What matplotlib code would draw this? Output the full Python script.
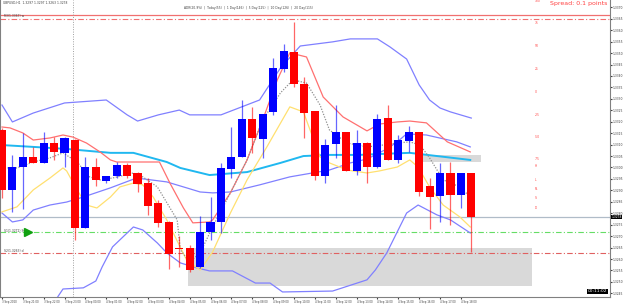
import numpy as np
import matplotlib.pyplot as plt

# candles (GBPUSD), oldest first
opens = [1.33160, 1.32902, 1.33002, 1.33042, 1.33020, 1.33107, 1.33064, 1.33120, 1.32736, 1.33002,
         1.32941, 1.32963, 1.33007, 1.32972, 1.32932, 1.32841, 1.32758, 1.32648, 1.32648, 1.32565,
         1.32718, 1.32762, 1.32994, 1.33046, 1.33212, 1.33125, 1.33243, 1.33431, 1.33501, 1.33361,
         1.33243, 1.32963, 1.33103, 1.33155, 1.32985, 1.33103, 1.33002, 1.33216, 1.33033, 1.33116,
         1.33155, 1.32915, 1.32876, 1.32972, 1.32880, 1.32972]
highs = [1.33173, 1.33055, 1.33151, 1.33090, 1.33155, 1.33133, 1.33133, 1.33125, 1.33046, 1.33042,
         1.32963, 1.33024, 1.33020, 1.32980, 1.32954, 1.32858, 1.32766, 1.32701, 1.32661, 1.32788,
         1.32871, 1.33020, 1.33177, 1.33295, 1.33265, 1.33230, 1.33479, 1.33540, 1.33636, 1.33396,
         1.33243, 1.33125, 1.33273, 1.33155, 1.33164, 1.33112, 1.33234, 1.33273, 1.33142, 1.33182,
         1.33155, 1.32954, 1.33020, 1.33024, 1.32972, 1.32972]
lows = [1.32867, 1.32806, 1.32819, 1.33020, 1.33020, 1.33033, 1.33002, 1.32683, 1.32736, 1.32919,
        1.32932, 1.32954, 1.32954, 1.32893, 1.32793, 1.32740, 1.32557, 1.32565, 1.32543, 1.32561,
        1.32683, 1.32714, 1.32954, 1.33046, 1.33064, 1.33042, 1.33230, 1.33417, 1.33352, 1.33129,
        1.32946, 1.32932, 1.33042, 1.32985, 1.32967, 1.32932, 1.32998, 1.33033, 1.33020, 1.33068,
        1.32876, 1.32731, 1.32762, 1.32749, 1.32823, 1.32631]
closes = [1.32902, 1.33002, 1.33042, 1.33020, 1.33107, 1.33068, 1.33129, 1.32736, 1.33002, 1.32946,
          1.32963, 1.33007, 1.32963, 1.32928, 1.32832, 1.32758, 1.32622, 1.32644, 1.32552, 1.32714,
          1.32758, 1.32994, 1.33042, 1.33212, 1.33129, 1.33230, 1.33431, 1.33505, 1.33365, 1.33238,
          1.32963, 1.33098, 1.33151, 1.32985, 1.33103, 1.33002, 1.33208, 1.33033, 1.33116, 1.33155,
          1.32893, 1.32871, 1.32976, 1.32880, 1.32972, 1.32784]

# indicator lines: bar index / price
bb_up_x = [0, 1, 3, 6, 10, 12, 13, 15, 17, 18, 21, 24.7, 26.7, 28.6, 31.7, 33.4, 36, 37.2, 38.8, 40, 41, 42, 43, 45]
bb_up_y = [1.33273, 1.33199, 1.33238, 1.33282, 1.33295, 1.33230, 1.33203, 1.33230, 1.33251, 1.33230, 1.33230,
           1.33295, 1.33435, 1.33531, 1.33549, 1.33562, 1.33562, 1.33527, 1.33474, 1.33361, 1.33295, 1.33260,
           1.33243, 1.33216]
bb_mid_x = [0, 1, 2, 3, 4.6, 6.2, 7.8, 10.4, 12.9, 15.8, 17.7, 19.0, 20.2, 21.9, 24.7, 27.6, 31.4, 33.4, 35,
            36.9, 37.9, 38.8, 40.7, 43.6, 44.9]
bb_mid_y = [1.32801, 1.32762, 1.32771, 1.32814, 1.32836, 1.32849, 1.32871, 1.32911, 1.32954, 1.32937, 1.32911,
            1.32893, 1.32889, 1.32893, 1.32924, 1.32959, 1.32989, 1.33020, 1.33037, 1.33081, 1.33112, 1.33147,
            1.33142, 1.33112, 1.33090]
bb_lo_x = [4.5, 5.85, 7.8, 9.0, 9.6, 10.6, 12.6, 13.5, 14.9, 15.8, 17.1, 18.7, 19.9, 22.1, 24.3, 25.7, 26.9,
           31.7, 35.0, 35.8, 36.9, 38.8, 39.9, 41.7, 43.0, 44.9]
bb_lo_y = [1.32377, 1.32469, 1.32474, 1.32504, 1.32565, 1.32653, 1.32740, 1.32727, 1.32670, 1.32627, 1.32583,
           1.32561, 1.32548, 1.32548, 1.32495, 1.32495, 1.32456, 1.32460, 1.32509, 1.32552, 1.32627, 1.32801,
           1.32836, 1.32793, 1.32771, 1.32714]
ma_cyan_x = [0, 3, 6.2, 10.4, 12.6, 15.8, 17.1, 19.9, 23.5, 26.7, 28.9, 31.4, 34.3, 36.2, 39.1, 44.9]
ma_cyan_y = [1.33098, 1.33090, 1.33081, 1.33064, 1.33064, 1.33024, 1.32998, 1.32967, 1.32980, 1.33020, 1.33050,
             1.33055, 1.33055, 1.33059, 1.33064, 1.33033]
ma_red_x = [0, 0.77, 2, 3, 4.6, 5.85, 6.8, 8.1, 9.4, 10.4, 11.0, 13.2, 15.1, 16.1, 17.4, 18.3, 19.9, 20.2, 21.9,
            23.5, 25.0, 26.4, 27.6, 29.2, 30.8, 32.7, 35.0, 36.2, 37.9, 39.1, 40.7, 42.7, 44.9]
ma_red_y = [1.33177, 1.33173, 1.33151, 1.33120, 1.33129, 1.33142, 1.33133, 1.33107, 1.33068, 1.33033, 1.33024,
            1.33024, 1.33024, 1.32932, 1.32823, 1.32758, 1.32762, 1.32771, 1.32889, 1.33033, 1.33208, 1.33383,
            1.33501, 1.33483, 1.33308, 1.33221, 1.33160, 1.33190, 1.33199, 1.33203, 1.33195, 1.33112, 1.33068]
ma_yel_x = [0, 1.44, 3, 4.6, 5.85, 6.2, 7.2, 8.1, 9.1, 10.4, 11.3, 12.6, 13.5, 14.5, 15.8, 17.7, 19.0, 20.2,
            21.9, 23.5, 25.4, 27.6, 28.9, 30.5, 31.4, 33.1, 35.0, 36.2, 37.9, 39.1, 39.9, 41.0, 42.3, 43.9, 44.9]
ma_yel_y = [1.32806, 1.32828, 1.32902, 1.32954, 1.32998, 1.32985, 1.32902, 1.32836, 1.32823, 1.32871, 1.32915,
            1.32932, 1.32924, 1.32871, 1.32771, 1.32596, 1.32552, 1.32631, 1.32801, 1.32946, 1.33090, 1.33265,
            1.33243, 1.33046, 1.33020, 1.32989, 1.32976, 1.32985, 1.33002, 1.33033, 1.33002, 1.32915, 1.32836,
            1.32784, 1.32740]
ma_gray_x = [0, 1.44, 3, 4.6, 5.85, 7.2, 8.4, 9.4, 10.6, 12.6, 13.5, 14.9, 16.8, 17.1, 18.0, 19.0, 20.2, 21.9,
             23.5, 25.0, 26.7, 27.9, 29.2, 30.5, 31.4, 33.1, 35.0, 36.5, 37.9, 39.1, 40.1, 41.0, 42.3, 43.9, 44.9]
ma_gray_y = [1.32998, 1.32998, 1.33024, 1.33042, 1.33064, 1.33024, 1.32959, 1.32946, 1.32954, 1.32976, 1.32959,
             1.32915, 1.32771, 1.32640, 1.32587, 1.32627, 1.32740, 1.32889, 1.33033, 1.33208, 1.33326, 1.33383,
             1.33369, 1.33273, 1.33164, 1.33107, 1.33090, 1.33098, 1.33107, 1.33112, 1.33098, 1.33042, 1.32946,
             1.32915, 1.32871]

# levels and zones
level_r_solid = 1.33667
level_r_dash = 1.33647
level_green = 1.32718
level_red = 1.32627
zone_lo, zone_hi = 1.32482, 1.32648
box_lo, box_hi = 1.33024, 1.33055
sep_bar = 6.8

price_ticks = [1.3370 - 0.0005 * k for k in range(26)]
time_labels = ["3 Sep 2020", "3 Sep 21:00", "3 Sep 22:00", "3 Sep 23:00", "4 Sep 00:00", "4 Sep 01:00",
               "4 Sep 02:00", "4 Sep 03:00", "4 Sep 04:00", "4 Sep 05:00", "4 Sep 06:00", "4 Sep 07:00",
               "4 Sep 08:00", "4 Sep 09:00", "4 Sep 10:00", "4 Sep 11:00", "4 Sep 12:00", "4 Sep 13:00",
               "4 Sep 14:00", "4 Sep 15:00", "4 Sep 16:00", "4 Sep 17:00", "4 Sep 18:00"]
right_tags = ["100", "75", "50", "25", "0", "-25", "-50", "-75", "H", "L", "PL", "S", "D"]
right_tag_y = [1.33728, 1.33632, 1.33531, 1.33431, 1.33330, 1.33230, 1.33134, 1.33037, 1.33006, 1.32945,
               1.32906, 1.32867, 1.32823]

fig = plt.figure(figsize=(6.25, 3.04), dpi=100)
ax = fig.add_axes([0, 7 / 304, 610 / 625, 297 / 304])
ax.set_xlim(-0.19, 58.3)
ax.set_ylim(1.32434, 1.33732)

n = len(opens)
idx = np.arange(n)
o = np.array(opens); c = np.array(closes)
up = c >= o
cols = np.where(up, "#0000ff", "#ff0000")

# zones under candles
ax.fill_between([17.8, 50.8], zone_lo, zone_hi, color="#d9d9d9", lw=0, zorder=1)
ax.fill_between([40.4, 45.9], box_lo, box_hi, color="#d9d9d9", lw=0, zorder=1)

ax.axhline(level_r_solid, color="#f07070", lw=0.9, zorder=2)
ax.axhline(level_r_dash, color="#f07070", lw=0.8, ls=(0, (5, 2, 1, 2)), zorder=2)
ax.axhline(level_green, color="#66dd66", lw=0.8, ls=(0, (5, 2, 1, 2)), zorder=2)
ax.axhline(level_red, color="#e06060", lw=0.8, ls=(0, (5, 2, 1, 2)), zorder=2)
ax.axhline(closes[-1], color="#b0bcc8", lw=0.9, zorder=2)
ax.axvline(sep_bar, color="#a0a0a0", lw=0.7, ls=(0, (1, 1.5)), zorder=2)

ax.plot(bb_up_x, bb_up_y, color="#8080ff", lw=0.9, zorder=3)
ax.plot(bb_mid_x, bb_mid_y, color="#8080ff", lw=0.9, zorder=3)
ax.plot(bb_lo_x, bb_lo_y, color="#8080ff", lw=0.9, zorder=3)
ax.plot(ma_cyan_x, ma_cyan_y, color="#20b8f0", lw=1.4, zorder=3)
ax.plot(ma_red_x, ma_red_y, color="#ff7070", lw=0.9, zorder=3)
ax.plot(ma_yel_x, ma_yel_y, color="#ffe070", lw=0.9, zorder=3)
ax.plot(ma_gray_x, ma_gray_y, color="#909090", lw=0.9, ls=(0, (1, 1.2)), zorder=3)

ax.vlines(idx, lows, highs, colors=cols, lw=0.9, alpha=0.6, zorder=4)
ax.bar(idx, np.abs(c - o) + 0.00002, bottom=np.minimum(o, c), width=0.78, color=cols, lw=0, zorder=5)

# green arrow marker on support line
ax.plot([2.5], [level_green], marker=">", color="#10a010", ms=6, zorder=6)

small = 2.2
ax.text(0.2, level_r_solid - 0.00003, "R3(1.3367) w", fontsize=small, color="#404040", va="center")
ax.text(0.2, level_green + 0.00004, "S1(1.3272) Sun", fontsize=small, color="#404040", va="center")
ax.text(0.2, level_red + 0.00008, "S2(1.3263) d", fontsize=small, color="#404040", va="center")
for t, yv in zip(right_tags, right_tag_y):
    ax.text(51.1, yv, t, fontsize=small, color="#ff4040", va="center")

ax.text(0.005, 0.995, "GBPUSD,H1  1.3297 1.3297 1.3263 1.3278", transform=ax.transAxes,
        fontsize=small, color="#404040", va="top")
ax.text(17.5, 1.33695, "ADR(20.9%)  |  Today(55)  |  1 Day(146)  |  5 Day(125)  |  10 Day(126)  |  20 Day(115)",
        fontsize=small, color="#404040", va="center")
ax.text(0.995, 0.995, "Spread: 0.1 points", transform=ax.transAxes, fontsize=4.5, color="#ff4040",
        ha="right", va="top")
ax.text(0.995, 0.012, "00:11:02", transform=ax.transAxes, fontsize=3.2, color="white", ha="right",
        va="bottom", bbox=dict(boxstyle="square,pad=0.2", fc="black", ec="none"))

ax.yaxis.tick_right()
ax.set_yticks(price_ticks)
ax.set_yticklabels([f"{p:.4f}" for p in price_ticks])
ax.tick_params(axis="y", labelsize=2.2, length=1.2, pad=0.5, colors="#404040")
ax.set_xticks(np.arange(0, 2 * len(time_labels), 2))
ax.set_xticklabels(time_labels, ha="left")
ax.tick_params(axis="x", labelsize=1.9, length=1.2, pad=1, colors="#404040")
ax.text(1.002, (closes[-1] - 1.32434) / (1.33732 - 1.32434), f"{closes[-1]:.4f}", transform=ax.transAxes,
        fontsize=2.2, color="white", va="center", ha="left",
        bbox=dict(boxstyle="square,pad=0.1", fc="black", ec="none"))

for s in ax.spines.values():
    s.set_color("#808080")
    s.set_linewidth(0.8)
ax.spines["top"].set_visible(False)

fig.savefig("out.png", dpi=100, facecolor="white")
